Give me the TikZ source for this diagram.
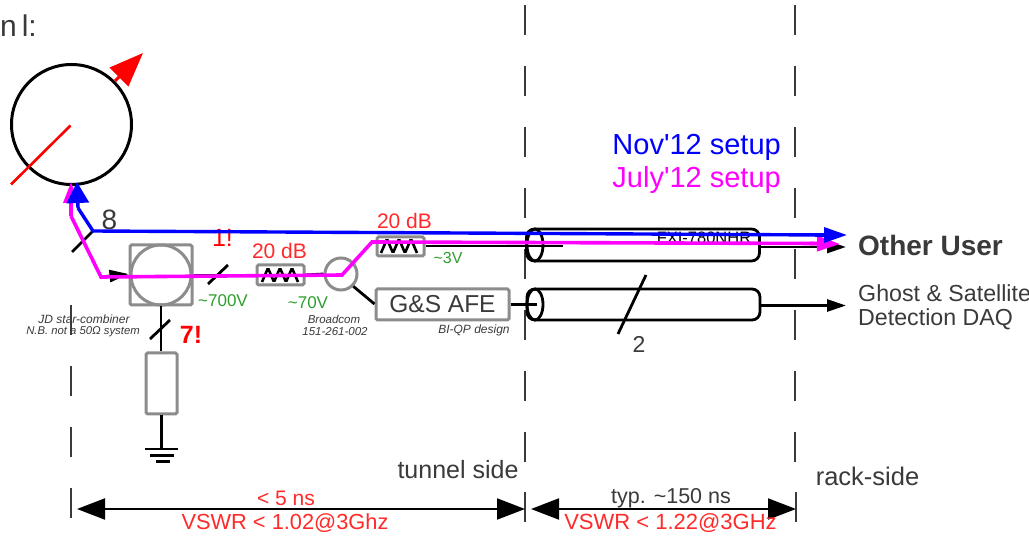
\documentclass[tikz,border=0pt]{standalone}
\usepackage{fontspec}
\setmainfont{Liberation Sans}
\newfontfamily\plainf{Liberation Sans}
\usetikzlibrary{arrows.meta,shapes.geometric}
\definecolor{txtgray}{HTML}{3A3A3A}
\definecolor{boxgray}{HTML}{8C8C8C}
\definecolor{vgreen}{HTML}{2E9E2E}
\definecolor{rtxt}{HTML}{FF2A2A}
\definecolor{setupmag}{RGB}{255,0,255}
\definecolor{setupblue}{RGB}{0,0,255}
\definecolor{purered}{RGB}{255,0,0}
\newcommand{\fsz}[1]{\fontsize{#1}{#1}\selectfont}
\tikzset{
  wire/.style={draw=black,line width=2.8pt},
  tick/.style={draw=txtgray,line width=1.6pt},
  gbox/.style={draw=boxgray,line width=3pt,fill=white,rounded corners=1.5pt,inner sep=0pt},
  gcirc/.style={draw=boxgray,line width=3pt,circle,inner sep=0pt},
  cable/.style={draw=black,line width=2.8pt,rounded corners=8pt,inner sep=0pt,minimum width=233pt,minimum height=32pt},
  cableend/.style={draw=black,line width=2.8pt,ellipse,inner sep=0pt,minimum width=16pt,minimum height=32pt},
  lbl/.style={inner sep=0pt,text=txtgray},
  redl/.style={inner sep=0pt,text=rtxt,font=\fsz{21}},
  greenl/.style={inner sep=0pt,text=vgreen},
  small/.style={inner sep=0pt,text=txtgray,font=\fsz{11.5}\itshape},
  blueline/.style={draw=setupblue,line width=3.4pt,line join=miter},
  magline/.style={draw=setupmag,line width=3.6pt,line join=miter},
  dimhead/.style={{Triangle[length=28pt,width=21pt]}-{Triangle[length=28pt,width=21pt]},draw=black,line width=2pt},
  bhead/.style={-{Triangle[length=19pt,width=12pt]}}
}
\begin{document}
\begin{tikzpicture}[x=1pt,y=-1pt]
\useasboundingbox (0,0) rectangle (1029,537);
\fill[white] (0,0) rectangle (1029,537);

% dashed boundaries
\foreach \yy in {5,66,127,188,249,310,371,432}{
  \draw[tick] (525,\yy) -- ++(0,30.5);
  \draw[tick] (795,\yy) -- ++(0,30.5);
}
\foreach \yy in {305,366,427}{\draw[tick] (71,\yy) -- ++(0,30.5);}
\draw[tick] (71,488) -- (71,518);
\draw[tick] (525,492) -- (525,522);
\draw[tick] (796,492) -- (796,522);

% top-left text
\node[lbl,anchor=base east,font=\fsz{30}] (title) at (37,37) {n\hspace{5pt}l:};

% pickup
\node[draw=black,line width=3pt,circle,inner sep=0pt,minimum size=120pt] (pu) at (71.5,124.5) {};
\coordinate (puc) at (70.5,125.5);
\coordinate (pul) at (11,184.5);
\draw[draw=purered,line width=2.6pt] (puc) -- (pul);
\coordinate (ars) at (115,81);
\coordinate (art) at (143,53);
\draw[draw=purered,line width=3pt,-{Triangle[length=34pt,width=26pt]}] (ars) -- (art);

% components
\node[gbox,minimum width=62pt,minimum height=60pt] (comb) at (161,275) {};
\node[gcirc,minimum size=60pt] (combc) at (161,275) {};
\node[gbox,minimum width=47pt,minimum height=20pt] (att1) at (280.5,275) {};
\node[gcirc,minimum size=32pt] (split) at (341,274) {};
\node[gbox,minimum width=47pt,minimum height=19pt] (att2) at (400.5,246.5) {};
\node[gbox,minimum width=133pt,minimum height=31pt,text=txtgray,font=\fsz{24.5}] (afe) at (442.5,304.5) {G\&S AFE};
\node[gbox,minimum width=31pt,minimum height=61pt] (term) at (161.5,383.5) {};

% attenuator zigzags
\draw[black,line width=2.6pt,rounded corners=1.5pt] (262,282)--(268,268)--(274,282)--(280,268)--(286,282)--(292,268)--(298,282);
\draw[black,line width=2.6pt,rounded corners=1.5pt] (381,253)--(387,239)--(393,253)--(399,239)--(405,253)--(411,239)--(417,253);

% cables
\node[cable] (cab1) at (643,245) {};
\node[cableend] (cab1e) at (535,245) {};
\node[cable,minimum width=233pt,minimum height=31pt] (cab2) at (643.5,304.5) {};
\node[cableend,minimum height=31pt] (cab2e) at (535,304.5) {};
\node[inner sep=0pt,text=black,font=\fsz{16.5}] (cabname) at (704,238) {FXI-780NHR};

% black wiring
\coordinate (inbr) at (101,277);
\coordinate (s8a) at (72,252);
\coordinate (s8b) at (93,231);
\draw[wire] (s8a) -- (s8b);
\draw[wire,bhead] (inbr) -- (comb.west |- 0,274);
\draw[wire] (comb.east) -- (att1.west);
\draw[wire] (208,284) -- (228,265);
\draw[wire] (att1.east) -- (split.west);
\draw[wire] (split.south east) -- (afe.west |- 0,304);
\draw[wire] (att2.east |- 0,246) -- (563,246);
\draw[wire] (afe.east) -- (537,304.5);
\draw[wire,bhead] (cab1.east |- 0,247) -- (846,247);
\draw[wire,bhead] (cab2.east |- 0,305.5) -- (846,305.5);
\draw[wire] (comb.south) -- (term.north -| comb.south);
\draw[wire] (150,339) -- (170,320);
\draw[wire] (term.south) -- (161.5,449);
\draw[wire] (618,334) -- (646,275);
\coordinate (g1a) at (145,449); \coordinate (g1b) at (178,449);
\coordinate (g2a) at (150,455.5); \coordinate (g2b) at (174,455.5);
\coordinate (g3a) at (156,462); \coordinate (g3b) at (170,462);
\draw[wire] (g1a) -- (g1b);
\draw[wire] (g2a) -- (g2b);
\draw[wire,line width=3pt] (g3a) -- (g3b);

% dimension arrows
\coordinate (d1a) at (77,509); \coordinate (d1b) at (525,509);
\coordinate (d2a) at (531,509); \coordinate (d2b) at (796,509);
\draw[dimhead] (d1a) -- (d1b);
\draw[dimhead] (d2a) -- (d2b);

% labels
\node[lbl,font=\fsz{28}] (eight) at (109.5,220) {8};
\node[inner sep=0pt,text=purered,font=\fsz{25}] (one) at (222.5,238) {1!};
\node[inner sep=0pt,text=purered,font=\fsz{25}\bfseries] (seven) at (191,335) {7!};
\node[redl] (db1) at (279.5,251) {20 dB};
\node[redl] (db2) at (404.5,220.5) {20 dB};
\node[greenl,font=\fsz{17}] (v700) at (223,300.5) {\~{}700V};
\node[greenl,font=\fsz{17}] (v70) at (308,303) {\~{}70V};
\node[greenl,font=\fsz{16}] (v3) at (448,257.5) {\~{}3V};
\node[small,font=\fsz{12}\itshape] (jd1) at (84,319) {JD star-combiner};
\node[small,font=\fsz{11.3}\itshape] (jd2) at (83,332) {N.B. not a 50Ω system};
\node[small] (bc1) at (334,319) {Broadcom};
\node[small] (bc2) at (335,332) {151-261-002};
\node[small,font=\fsz{12}\itshape] (qp) at (474,330) {BI-QP design};
\node[lbl,font=\fsz{23}] (two) at (639,344) {2};
\node[lbl,font=\fsz{25}] (tun) at (458,470) {tunnel side};
\node[lbl,font=\fsz{25.5}] (rack) at (867.5,476) {rack-side};
\node[redl] (ns5) at (286,498) {< 5 ns};
\node[redl,font=\fsz{21.8}] (vs1) at (285,523) {VSWR < 1.02@3Ghz};
\node[lbl,font=\fsz{21.5}] (ns150) at (671,498) {typ. \~{}150 ns};
\node[redl,font=\fsz{22}] (vs2) at (670.5,523) {VSWR < 1.22@3GHz};
\node[inner sep=0pt,text=setupblue,font=\fsz{29}\plainf,anchor=east] (nov) at (781,147) {Nov'12 setup};
\node[inner sep=0pt,text=setupmag,font=\fsz{29}\plainf,anchor=east] (jul) at (781,180) {July'12 setup};
\node[lbl,font=\fsz{28}\bfseries,anchor=west] (ou) at (858,245) {Other User};
\node[lbl,font=\fsz{23.2},anchor=west] (g1) at (858,293) {Ghost \& Satellite};
\node[lbl,font=\fsz{23.2},anchor=west] (g2) at (858,319) {Detection DAQ};

% setup traces
\coordinate (bt) at (77,182);
\coordinate (b1) at (78,208);
\coordinate (bo) at (847,235);
\coordinate (mt) at (71,182);
\coordinate (m1) at (71,216);
\coordinate (m3) at (342,275);
\coordinate (m4) at (372,242);
\coordinate (mo) at (840,244);
\draw[magline,-{Triangle[length=21pt,width=15pt]}] (m1) -- (mt);
\draw[magline] (m1) -- (inbr) -- (m3) -- (m4) -- (817,243.5);
\draw[magline,-{Triangle[length=23pt,width=15pt]}] (810,243.5) -- (mo);
\draw[blueline,-{Triangle[length=21pt,width=22pt]}] (b1) -- (bt);
\draw[blueline] (b1) -- (s8b) -- (825,235);
\draw[blueline,-{Triangle[length=23pt,width=15pt]}] (815,235) -- (bo);
\end{tikzpicture}
\end{document}
